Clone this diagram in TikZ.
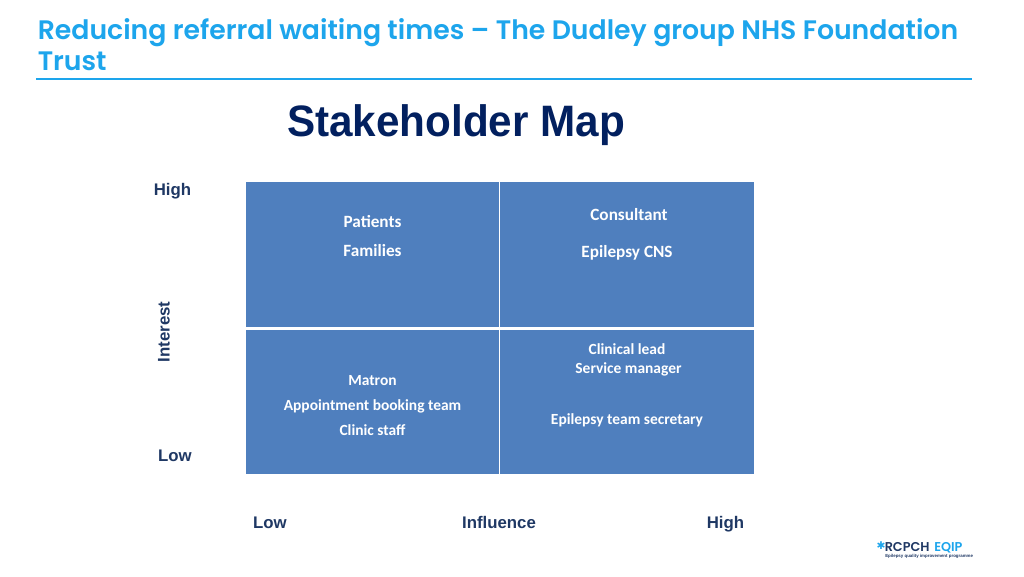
\documentclass[tikz,border=0pt]{standalone}
\usepackage{fontspec}
\setmainfont{Liberation Sans}
\newfontfamily\titlefont{Poppins}[UprightFont=* SemiBold,BoldFont=* SemiBold]
\newfontfamily\cellfont{Carlito}
\newfontfamily\symfont{DejaVu Sans}
\definecolor{titleblue}{HTML}{1DA5EC}
\definecolor{cellblue}{HTML}{4F7FBE}
\definecolor{mapnavy}{HTML}{02205F}
\definecolor{axisnavy}{HTML}{1F3864}
\tikzset{x=0.75pt,y=-0.75pt,
 titletext/.style={anchor=base west,inner sep=0,text=titleblue,font=\titlefont\fontsize{20.05}{24}\selectfont},
 quadrant/.style={fill=cellblue,draw=none,inner sep=0},
 celltext/.style={text=white,inner sep=0,font=\cellfont\bfseries\fontsize{11.6}{13}\selectfont},
 celltextbig/.style={text=white,inner sep=0,font=\cellfont\bfseries\fontsize{12.9}{15}\selectfont},
 axislabel/.style={text=axisnavy,inner sep=0,anchor=base,font=\bfseries\fontsize{12.6}{14}\selectfont}}
\begin{document}
\begin{tikzpicture}
\useasboundingbox (0,0) rectangle (1024,576);
\node[titletext] (t1) at (37.5,39) {Reducing referral waiting times – The Dudley group NHS Foundation};
\node[titletext] (t2) at (37.5,70) {Trust};
\fill[titleblue] (36,78.3) rectangle (972,80.3);
\node[anchor=base,inner sep=0,text=mapnavy,font=\bfseries\fontsize{33}{36}\selectfont] (map) at (456,136.5) {\scalebox{0.96}[1]{Stakeholder Map}};
% quadrants
\fill[quadrant] (246,182) rectangle (498.7,326.5);
\fill[quadrant] (500.3,182) rectangle (754,326.5);
\fill[quadrant] (246,329.5) rectangle (498.7,474);
\fill[quadrant] (500.3,329.5) rectangle (754,474);
% cell text
\node[celltextbig] (a1) at (372.5,221.5) {Patients};
\node[celltextbig] (a2) at (372.5,250.5) {Families};
\node[celltextbig] (b1) at (629,215) {Consultant};
\node[celltextbig] (b2) at (627,253) {Epilepsy CNS};
\node[celltext] (c1) at (372.5,380.5) {Matron};
\node[celltext] (c2) at (372.5,406) {Appointment booking team};
\node[celltext] (c3) at (372.5,430.5) {Clinic staff};
\node[celltext] (d1) at (627,349.5) {Clinical lead};
\node[celltext] (d2) at (628.5,369.5) {Service manager};
\node[celltext] (d3) at (627,420) {Epilepsy team secretary};
% axes
\node[axislabel] (h1) at (172.5,195) {High};
\node[axislabel] (l1) at (175,461) {Low};
\node[axislabel,rotate=90] (yl) at (169.5,332) {Interest};
\node[axislabel] (l2) at (270,528) {Low};
\node[axislabel] (xl) at (499,528) {Influence};
\node[axislabel] (h2) at (725.5,528) {High};
% logo
\node[inner sep=0,anchor=base west,text=axisnavy,font=\titlefont\fontsize{9.6}{10}\selectfont] (lg1) at (884.5,551) {RCPCH};
\node[inner sep=0,anchor=base west,text=titleblue,font=\titlefont\fontsize{9.6}{10}\selectfont] (lg2) at (934,551) {EQIP};
\node[inner sep=0,anchor=base west,text=axisnavy,font=\bfseries\fontsize{3.3}{4}\selectfont] (lg3) at (885,557) {Epilepsy quality improvement programme};
\node[inner sep=0,text=titleblue,font=\symfont\fontsize{8}{8}\selectfont] (lg0) at (881,546) {✱};
\end{tikzpicture}
\end{document}
